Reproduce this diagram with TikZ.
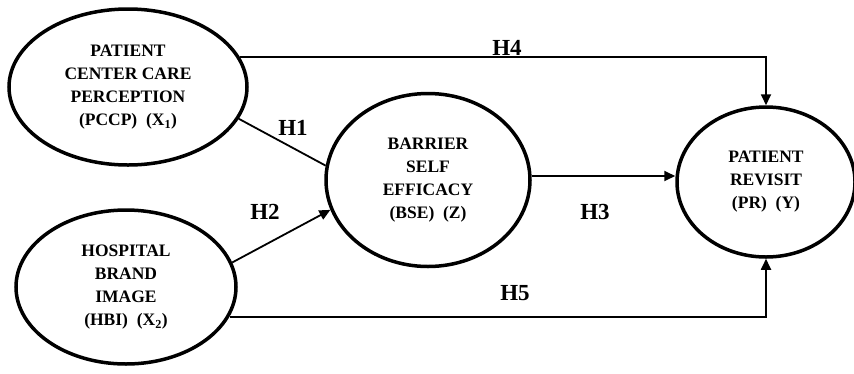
\documentclass[tikz,border=0pt]{standalone}
\usepackage{fontspec}
\setmainfont{Liberation Serif}
\usetikzlibrary{shapes.geometric,arrows.meta}
\begin{document}
\begin{tikzpicture}[x=1pt,y=-1pt,
  var/.style={draw,line width=3.5pt,ellipse,inner sep=0pt,align=center,
    font=\bfseries\fontsize{17.5}{23}\selectfont},
  hyp/.style={font=\bfseries\fontsize{23}{25}\selectfont,inner sep=0pt},
  con/.style={line width=1.8pt},
  arr/.style={con,-{Triangle[length=11pt,width=10pt]}}]
\useasboundingbox[fill=white] (0,0) rectangle (854,373);
\node[var,minimum width=238pt,minimum height=156pt] (pccp) at (128,87)
  {PATIENT\\CENTER CARE\\PERCEPTION\\(PCCP)\ \ (X\textsubscript{1})};
\node[var,minimum width=220pt,minimum height=154pt] (hbi) at (126,287)
  {HOSPITAL\\BRAND\\IMAGE\\(HBI)\ \ (X\textsubscript{2})};
\node[var,minimum width=204pt,minimum height=173pt] (bse) at (428,180)
  {BARRIER\\SELF\\EFFICACY\\(BSE)\ \ (Z)};
\node[var,minimum width=178pt,minimum height=150pt] (pr) at (766,182)
  {PATIENT\\REVISIT\\(PR)\ \ (Y)};
\draw[arr] (pccp.15.7) -| (pr.north);
\draw[con] (pccp.-16.6) -- (bse.172.8);
\draw[arr] (hbi.13) -- (bse.197.7);
\draw[arr] (bse.east |- 0,176) coordinate (b3) -- (pr.west |- b3);
\draw[arr] (hbi.-16.2) -| (pr.south);
\node[hyp] (h4) at (507,48) {H4};
\node[hyp] (h1) at (293,128) {H1};
\node[hyp] (h2) at (265,212) {H2};
\node[hyp] (h3) at (595,212) {H3};
\node[hyp] (h5) at (515,293) {H5};
\end{tikzpicture}
\end{document}
